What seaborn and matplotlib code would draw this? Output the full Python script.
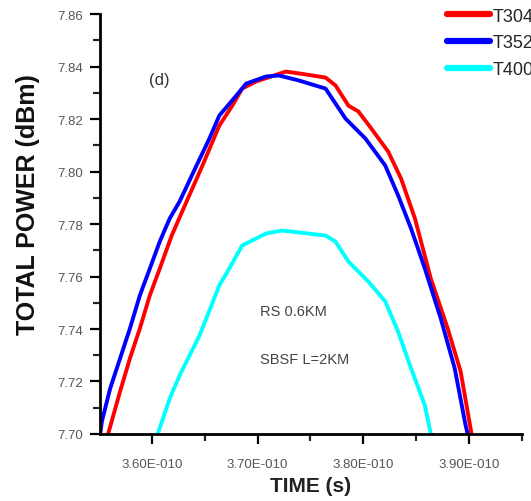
import numpy as np
import pandas as pd
import matplotlib
matplotlib.use("Agg")
import matplotlib.pyplot as plt
import seaborn as sns
from matplotlib.ticker import MultipleLocator, FixedLocator, FuncFormatter, FormatStrFormatter

# --- data (time in units of 1e-10 s, power in dBm) ---
t304_time = [3.5587, 3.5700, 3.5793, 3.5887, 3.5981, 3.6075, 3.6188, 3.6329, 3.6479,
             3.6638, 3.6761, 3.6854, 3.6986, 3.7268, 3.7455, 3.7643, 3.7737, 3.7859,
             3.7953, 3.8075, 3.8235, 3.8357, 3.8488, 3.8638, 3.8798, 3.8920, 3.9014, 3.9023]
t304_power = [7.7000, 7.7162, 7.7288, 7.7402, 7.7528, 7.7630, 7.7756, 7.7886, 7.8023,
              7.8175, 7.8251, 7.8316, 7.8343, 7.8381, 7.8370, 7.8358, 7.8328, 7.8251,
              7.8229, 7.8164, 7.8076, 7.7973, 7.7821, 7.7592, 7.7402, 7.7238, 7.7021, 7.7000]

t352_time = [3.5512, 3.5528, 3.5606, 3.5700, 3.5793, 3.5887, 3.5981, 3.6075, 3.6169,
             3.6263, 3.6423, 3.6545, 3.6638, 3.6798, 3.6892, 3.7080, 3.7202, 3.7390,
             3.7643, 3.7831, 3.8019, 3.8207, 3.8329, 3.8451, 3.8582, 3.8732, 3.8864,
             3.8967, 3.8986]
t352_power = [7.7000, 7.7048, 7.7173, 7.7288, 7.7402, 7.7528, 7.7630, 7.7733, 7.7821,
              7.7886, 7.8023, 7.8126, 7.8213, 7.8289, 7.8335, 7.8362, 7.8366, 7.8347,
              7.8316, 7.8202, 7.8126, 7.8023, 7.7909, 7.7783, 7.7630, 7.7440, 7.7250,
              7.7033, 7.7000]

t400_time = [3.6056, 3.6169, 3.6263, 3.6451, 3.6638, 3.6732, 3.6854, 3.7080, 3.7230,
             3.7390, 3.7643, 3.7737, 3.7859, 3.8047, 3.8207, 3.8329, 3.8451, 3.8582, 3.8638]
t400_power = [7.7000, 7.7135, 7.7223, 7.7375, 7.7566, 7.7630, 7.7718, 7.7764, 7.7775,
              7.7768, 7.7756, 7.7733, 7.7657, 7.7581, 7.7505, 7.7390, 7.7250, 7.7109, 7.7000]

series_names = ["T304", "T352", "T400"]
series_colors = ["#ff0000", "#0000ff", "#00ffff"]
x_ticks = [3.6e-10, 3.7e-10, 3.8e-10, 3.9e-10]

frames = []
for name, t, p in zip(series_names,
                      [t304_time, t352_time, t400_time],
                      [t304_power, t352_power, t400_power]):
    frames.append(pd.DataFrame({"time": np.array(t) * 1e-10, "power": p, "curve": name}))
df = pd.concat(frames, ignore_index=True)

sns.set_style("ticks")
plt.rcParams["font.family"] = ["Liberation Sans", "DejaVu Sans"]

fig = plt.figure(figsize=(5.31, 5.02), dpi=100)
ax = fig.add_axes([0.1883, 0.1335, 0.7947, 0.8365])

sns.lineplot(data=df, x="time", y="power", hue="curve", palette=series_colors,
             sort=False, estimator=None, linewidth=2.8, ax=ax, legend=False)

ax.set_xlim(3.551e-10, 3.95e-10)
ax.set_ylim(7.70, 7.86)

ax.xaxis.set_major_locator(FixedLocator(x_ticks))
ax.xaxis.set_minor_locator(MultipleLocator(5e-12))
ax.yaxis.set_major_locator(MultipleLocator(0.02))
ax.yaxis.set_minor_locator(MultipleLocator(0.01))


def sci_label(x, pos):
    m, e = f"{x:.2E}".split("E")
    return f"{m}E{int(e):04d}"


ax.xaxis.set_major_formatter(FuncFormatter(sci_label))
ax.yaxis.set_major_formatter(FormatStrFormatter("%.2f"))

ax.tick_params(axis="both", which="major", direction="out", length=7, width=1.6,
               labelsize=9.5, labelcolor="#555555", color="black")
ax.tick_params(axis="both", which="minor", direction="out", length=5, width=1.6)
ax.tick_params(axis="x", which="major", pad=10)
ax.tick_params(axis="y", which="major", pad=5)

sns.despine(ax=ax)
for s in ["left", "bottom"]:
    ax.spines[s].set_linewidth(2)
    ax.spines[s].set_color("black")

ax.set_xlabel("")
ax.set_ylabel("")
fig.text(311 / 531, 1 - 487 / 502, "TIME (s)", ha="center", va="center",
         fontsize=15, fontweight="bold", color="#222222")
fig.text(28 / 531, 1 - 205 / 502, "TOTAL POWER (dBm)", ha="center", va="center",
         rotation=90, fontsize=18, fontweight="bold", color="#111111")

# annotations
ax.text(0.14, 0.845, "(d)", transform=ax.transAxes, ha="center", va="center",
        fontsize=12, color="#333333")
ax.text(0.379, 0.293, "RS 0.6KM", transform=ax.transAxes, ha="left", va="center",
        fontsize=10.5, color="#444444")
ax.text(0.379, 0.179, "SBSF L=2KM", transform=ax.transAxes, ha="left", va="center",
        fontsize=10.5, color="#444444")

# legend, partly cut off by the right edge as in the reference
handles = [plt.Line2D([], [], color=c, linewidth=4.5) for c in series_colors]
fig.legend(handles, series_names, loc="upper left", bbox_to_anchor=(447 / 531, 0.983),
           frameon=False, fontsize=13, handlelength=2.4, handletextpad=0.15,
           labelspacing=0.55, borderpad=0, borderaxespad=0)

fig.savefig("out.png", dpi=100)
